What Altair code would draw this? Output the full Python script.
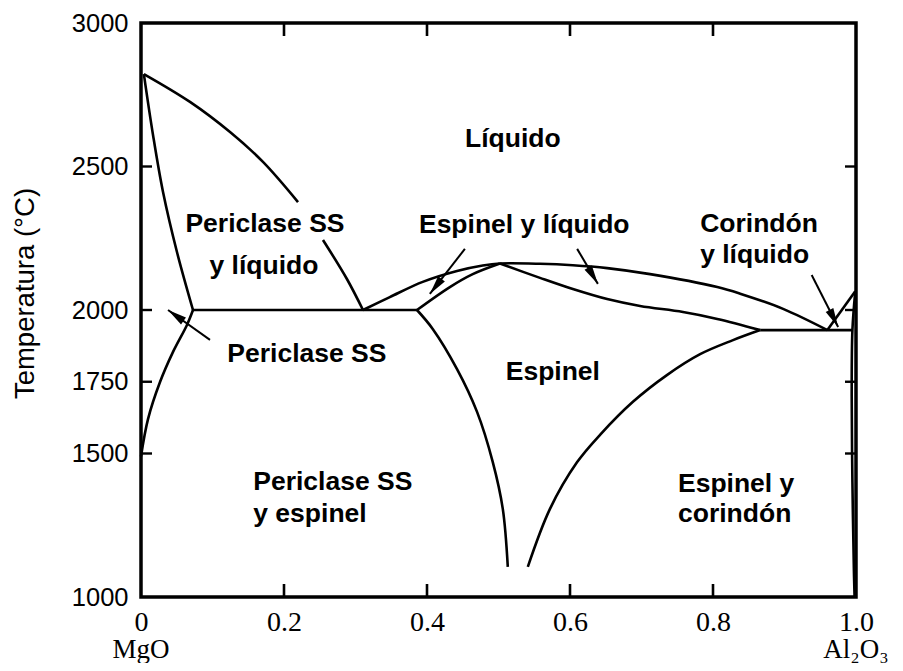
import math
import altair as alt
import pandas as pd

W, H = 715, 574
X_DOM = [0.0, 1.0]
T_DOM = [1000, 3000]

# ---- phase boundaries (composition x = mole fraction Al2O3, T in C) ----
per_liq_a_x = [0.004, 0.0685, 0.1245, 0.1706, 0.2196]
per_liq_a_T = [2822, 2725, 2620, 2516, 2376]
per_liq_b_x = [0.2545, 0.288, 0.3105]
per_liq_b_T = [2244, 2108, 2000]
per_sol_x = [0.004, 0.0168, 0.0308, 0.0503, 0.0727]
per_sol_T = [2822, 2610, 2411, 2202, 2000]
per_solv_x = [0.0727, 0.0643, 0.0448, 0.0266, 0.0098, 0.0]
per_solv_T = [2000, 1948, 1854, 1749, 1620, 1490]
eut_left_x = [0.0727, 0.386]
eut_left_T = [2000, 2000]
sp_liq_x = [0.3105, 0.348, 0.394, 0.442, 0.478, 0.502, 0.558, 0.604, 0.652,
            0.712, 0.806, 0.838, 0.898, 0.96]
sp_liq_T = [2000, 2045, 2098, 2136, 2155, 2162, 2161, 2156, 2146,
            2125, 2080, 2057, 2004, 1930]
sp_sol_l_x = [0.386, 0.432, 0.464, 0.502]
sp_sol_l_T = [2000, 2080, 2125, 2162]
sp_sol_r_x = [0.502, 0.558, 0.604, 0.652, 0.698, 0.758, 0.806, 0.866]
sp_sol_r_T = [2162, 2112, 2073, 2038, 2014, 1993, 1969, 1930]
eut_right_x = [0.866, 0.995]
eut_right_T = [1930, 1930]
cor_liq_x = [0.96, 0.999]
cor_liq_T = [1930, 2065]
cor_sol_x = [0.999, 0.995, 0.994, 0.995, 0.997, 0.998]
cor_sol_T = [2065, 1930, 1700, 1400, 1100, 1000]
sp_solv_l_x = [0.386, 0.408, 0.442, 0.470, 0.492, 0.506, 0.513]
sp_solv_l_T = [2000, 1934, 1794, 1645, 1470, 1307, 1105]
sp_solv_r_x = [0.541, 0.572, 0.610, 0.642, 0.688, 0.736, 0.782, 0.828, 0.866]
sp_solv_r_T = [1105, 1307, 1470, 1565, 1680, 1774, 1846, 1895, 1930]

# ---- arrows (tail -> tip) ----
arrow_x0 = [0.0965, 0.453, 0.610, 0.938]
arrow_T0 = [1896, 2213, 2213, 2122]
arrow_x1 = [0.0378, 0.404, 0.639, 0.975]
arrow_T1 = [2000, 2056, 2091, 1941]

# ---- region labels ----
center_labels = ["Líquido", "Periclase SS", "y líquido", "Espinel y líquido",
                 "Periclase SS", "Espinel"]
center_x = [0.520, 0.1734, 0.172, 0.536, 0.232, 0.576]
center_T = [2596, 2300, 2152, 2296, 1847, 1784]
left_labels = ["Corindón", "y líquido", "Periclase SS", "y espinel",
               "Espinel y", "corindón"]
left_x = [0.782, 0.782, 0.157, 0.157, 0.751, 0.751]
left_T = [2300, 2192, 1401, 1289, 1394, 1289]

# ---- axis ticks / end-member labels ----
x_tick_vals = [0.0, 0.2, 0.4, 0.6, 0.8, 1.0]
y_tick_vals = [1000, 1500, 1750, 2000, 2500, 3000]
x_inner_ticks = [0.2, 0.4, 0.6, 0.8]
y_inner_ticks = [1500, 1750, 2000, 2500]
end_members = ["MgO", "Al₂O₃"]
end_x = [0.0, 1.0]

segments = [
    (per_liq_a_x, per_liq_a_T), (per_liq_b_x, per_liq_b_T),
    (per_sol_x, per_sol_T), (per_solv_x, per_solv_T),
    (eut_left_x, eut_left_T), (sp_liq_x, sp_liq_T),
    (sp_sol_l_x, sp_sol_l_T), (sp_sol_r_x, sp_sol_r_T),
    (eut_right_x, eut_right_T), (cor_liq_x, cor_liq_T),
    (cor_sol_x, cor_sol_T), (sp_solv_l_x, sp_solv_l_T),
    (sp_solv_r_x, sp_solv_r_T),
]
rows = []
for sid, (xs, ts) in enumerate(segments):
    for k, (a, b) in enumerate(zip(xs, ts)):
        rows.append({"x": a, "T": b, "seg": sid, "ord": k})
curves = pd.DataFrame(rows)

arows, heads = [], []
px_x = W / (X_DOM[1] - X_DOM[0])
px_T = H / (T_DOM[1] - T_DOM[0])
for i in range(len(arrow_x0)):
    arows.append({"x": arrow_x0[i], "T": arrow_T0[i], "a": i, "ord": 0})
    arows.append({"x": arrow_x1[i], "T": arrow_T1[i], "a": i, "ord": 1})
    dx = (arrow_x1[i] - arrow_x0[i]) * px_x
    dy = -(arrow_T1[i] - arrow_T0[i]) * px_T
    ang = math.degrees(math.atan2(dx, -dy)) % 360
    heads.append({"x": arrow_x1[i], "T": arrow_T1[i], "ang": ang})
arrows = pd.DataFrame(arows)
heads = pd.DataFrame(heads)

xs_scale = alt.Scale(domain=X_DOM, nice=False, zero=False)
ys_scale = alt.Scale(domain=T_DOM, nice=False, zero=False)

x_axis = alt.Axis(values=x_tick_vals, ticks=False, tickSize=0, domain=False, grid=False,
                  labelExpr="datum.value == 0 ? '0' : format(datum.value, '.1f')",
                  labelFont="Liberation Serif", labelFontSize=28, labelPadding=11,
                  labelFlush=False, labelOverlap=False, labelColor="black", title=None)
y_axis = alt.Axis(values=y_tick_vals, format="d", ticks=False, tickSize=0, domain=False,
                  grid=False, labelFont="Liberation Sans", labelFontSize=25.5,
                  labelPadding=13, labelFlush=False, labelOverlap=False,
                  labelColor="black", title="Temperatura (°C)",
                  titleFont="Liberation Sans", titleFontSize=27.5,
                  titleFontWeight="normal", titleColor="black",
                  titleX=-116, titleY=270, titleAngle=270, titleBaseline="middle",
                  titleAlign="center")

base_x = alt.X("x:Q", scale=xs_scale, axis=x_axis)
base_y = alt.Y("T:Q", scale=ys_scale, axis=y_axis)

lines = alt.Chart(curves).mark_line(color="black", strokeWidth=2.6,
                                    interpolate="catmull-rom").encode(
    x=base_x, y=base_y, detail="seg:N", order="ord:Q")

shafts = alt.Chart(arrows).mark_line(color="black", strokeWidth=2.0).encode(
    x=alt.X("x:Q", scale=xs_scale), y=alt.Y("T:Q", scale=ys_scale),
    detail="a:N", order="ord:Q")

head_marks = alt.Chart(heads).mark_point(
    shape="M0,0 L0.45,2 L-0.45,2 Z", filled=True, color="black", opacity=1,
    size=360, strokeWidth=0).encode(
    x=alt.X("x:Q", scale=xs_scale), y=alt.Y("T:Q", scale=ys_scale),
    angle=alt.Angle("ang:Q", scale=None))

lab_c = alt.Chart(pd.DataFrame({"t": center_labels, "x": center_x, "T": center_T})).mark_text(
    font="Liberation Sans", fontWeight="bold", fontSize=26.5, align="center",
    baseline="middle", color="black").encode(
    x=alt.X("x:Q", scale=xs_scale), y=alt.Y("T:Q", scale=ys_scale), text="t:N")

lab_l = alt.Chart(pd.DataFrame({"t": left_labels, "x": left_x, "T": left_T})).mark_text(
    font="Liberation Sans", fontWeight="bold", fontSize=26.5, align="left",
    baseline="middle", color="black").encode(
    x=alt.X("x:Q", scale=xs_scale), y=alt.Y("T:Q", scale=ys_scale), text="t:N")

ends = alt.Chart(pd.DataFrame({"t": end_members, "x": end_x, "dxp": [3, 2]})).mark_text(
    font="Liberation Serif", fontSize=27, align="center", baseline="middle",
    color="black").encode(
    x=alt.X("x:Q", scale=xs_scale), y=alt.value(H + 53), text="t:N",
    xOffset=alt.XOffset("dxp:Q", scale=None))

# inward tick marks on all four sides of the frame (length in data units)
tick_len_T = 13 / px_T
tick_len_x = 11 / px_x
xt_rows = []
for v in x_inner_ticks:
    xt_rows.append({"x": v, "T": T_DOM[0], "T2": T_DOM[0] + tick_len_T})
    xt_rows.append({"x": v, "T": T_DOM[1], "T2": T_DOM[1] - tick_len_T})
yt_rows = []
for v in y_inner_ticks:
    yt_rows.append({"x": X_DOM[0], "x2": X_DOM[0] + tick_len_x, "T": v})
    yt_rows.append({"x": X_DOM[1], "x2": X_DOM[1] - tick_len_x, "T": v})
x_ticks = alt.Chart(pd.DataFrame(xt_rows)).mark_rule(color="black", strokeWidth=2.6).encode(
    x=alt.X("x:Q", scale=xs_scale), y=alt.Y("T:Q", scale=ys_scale), y2="T2:Q")
y_ticks = alt.Chart(pd.DataFrame(yt_rows)).mark_rule(color="black", strokeWidth=2.4).encode(
    x=alt.X("x:Q", scale=xs_scale), x2="x2:Q", y=alt.Y("T:Q", scale=ys_scale))

chart = alt.layer(
    lines, shafts, head_marks, lab_c, lab_l, ends, x_ticks, y_ticks
).properties(
    width=W, height=H,
    autosize=alt.AutoSizeParams(type="none"),
    padding={"left": 133, "top": 15, "right": 39, "bottom": 66},
    background="white",
).configure_view(stroke="black", strokeWidth=3.5)

chart.save("out.html", embed_options={"renderer": "svg", "actions": False})
